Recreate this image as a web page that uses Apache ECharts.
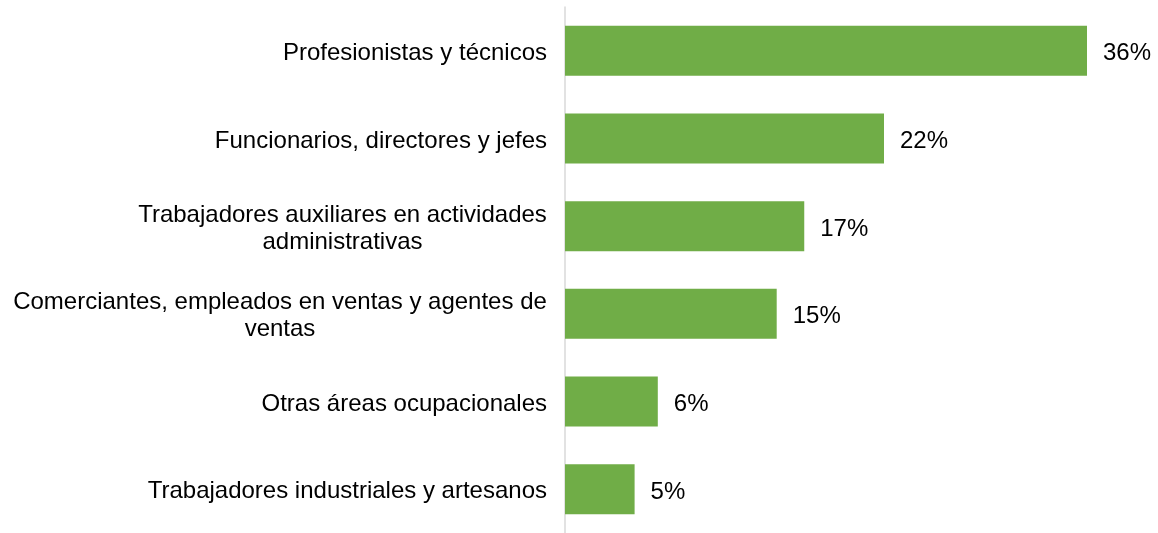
<!DOCTYPE html>
<html>
<head>
<meta charset="utf-8">
<script src="https://cdn.jsdelivr.net/npm/echarts@6/dist/echarts.min.js"></script>
<style>
  html, body { margin: 0; padding: 0; background: #fff; }
  #main { width: 1158px; height: 533px; }
</style>
</head>
<body>
<div id="main"></div>
<script>
// categories, top to bottom
var categories = [
    'Profesionistas y técnicos',
    'Funcionarios, directores y jefes',
    'Trabajadores auxiliares en actividades\nadministrativas',
    'Comerciantes, empleados en ventas y agentes de\nventas',
    'Otras áreas ocupacionales',
    'Trabajadores industriales y artesanos'
];
// share of workers (%)
var values = [36.0, 22.0, 16.5, 14.6, 6.4, 4.8];

var fontFamily = '"Liberation Sans", Arial, sans-serif';
var fontSize = 24;
var lineH = 27;

// measure text so wrapped labels can be centred line by line
var ctx = document.createElement('canvas').getContext('2d');
ctx.font = fontSize + 'px ' + fontFamily;
function textWidth(s) { return ctx.measureText(s).width; }

var rich = {};
var labelText = [];
categories.forEach(function (c, i) {
    var lines = c.split('\n');
    if (lines.length === 1) {
        labelText.push(c);
        return;
    }
    var w = 0;
    lines.forEach(function (l) { w = Math.max(w, textWidth(l)); });
    rich['l' + i] = { width: Math.ceil(w), align: 'center', fontSize: fontSize, lineHeight: lineH, color: '#000', fontFamily: fontFamily };
    labelText.push(lines.map(function (l) { return '{l' + i + '|' + l + '}'; }).join('\n'));
});

var myChart = echarts.init(document.getElementById('main'));

var option = {
    animation: false,
    grid: {
        left: 565,
        right: 71,
        top: 7,
        height: 529,
        containLabel: false
    },
    xAxis: {
        type: 'value',
        min: 0,
        max: 36,
        show: false
    },
    yAxis: {
        type: 'category',
        inverse: true,
        data: categories,
        axisLine: { show: true, lineStyle: { color: '#d9d9d9', width: 1.5 } },
        axisTick: { show: false },
        axisLabel: {
            margin: 18,
            padding: [5, 0, 0, 0],
            fontSize: fontSize,
            lineHeight: lineH,
            color: '#000',
            fontFamily: fontFamily,
            formatter: function (v, idx) { return labelText[idx]; },
            rich: rich
        }
    },
    series: [
        {
            type: 'bar',
            data: values,
            barWidth: 50,
            itemStyle: { color: '#70AD47' },
            label: {
                show: true,
                position: 'right',
                distance: 16,
                offset: [0, 3],
                fontSize: fontSize,
                color: '#000',
                fontFamily: fontFamily,
                formatter: function (p) { return Math.round(p.value) + '%'; }
            }
        }
    ]
};

myChart.setOption(option);
</script>
</body>
</html>
